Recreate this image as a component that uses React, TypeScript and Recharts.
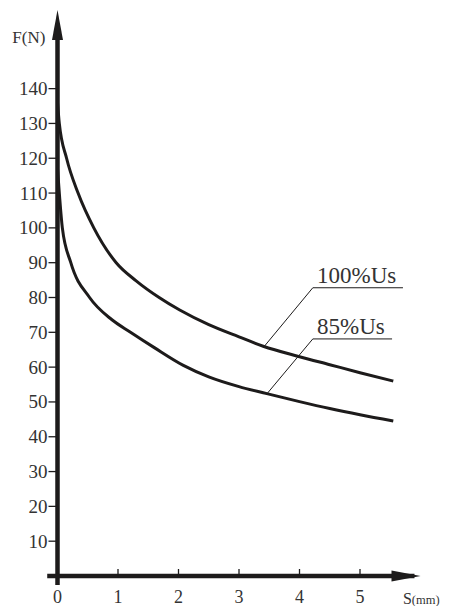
import { LineChart, Line, XAxis, YAxis, ReferenceLine, ReferenceDot } from "recharts";

// force-travel curves of the magnet
const sTicks = [0, 1, 2, 3, 4, 5];
const fTicks = [10, 20, 30, 40, 50, 60, 70, 80, 90, 100, 110, 120, 130, 140];

const fullS = [0, 0.03, 0.15, 0.34, 0.6, 0.97, 1.3, 1.68, 2.02, 2.5, 3, 3.4, 4, 4.5, 5, 5.55];
const fullF = [136, 130, 120, 110, 100, 90, 84.8, 80, 76.4, 72.2, 68.7, 66, 63, 60.7, 58.4, 56];

const lowS = [0, 0.03, 0.08, 0.22, 0.53, 0.9, 1.2, 1.6, 2.08, 2.5, 3, 3.46, 4, 4.5, 5, 5.55];
const lowF = [117, 110, 100, 90, 80, 73.6, 70.1, 65.6, 60.5, 57.2, 54.4, 52.4, 50.1, 48.1, 46.3, 44.5];

const full = fullS.map((s, i) => ({ s, f: fullF[i] }));
const low = lowS.map((s, i) => ({ s, f: lowF[i] }));

// callouts: leader from curve up to a knee, then an underline under the text
const callouts = [
  { text: "100%Us", from: { x: 3.41, y: 65.8 }, knee: { x: 4.22, y: 82.8 }, end: 5.71, textAt: { x: 4.29, y: 84.2 } },
  { text: "85%Us", from: { x: 3.46, y: 52.3 }, knee: { x: 4.22, y: 68.1 }, end: 5.53, textAt: { x: 4.29, y: 69.5 } },
];

const INK = "#1d1b1b";
const FONT = "'Liberation Serif', 'DejaVu Serif', serif";

function FTick({ x, y, payload }: any) {
  return (
    <g>
      <line x1={x - 9} x2={x} y1={y} y2={y} stroke={INK} strokeWidth={1.3} />
      <text x={x - 10} y={y} dy={6.5} textAnchor="end" fontFamily={FONT} fontSize={19} fill="#333">
        {payload.value}
      </text>
    </g>
  );
}

function STick({ x, y, payload }: any) {
  return (
    <g>
      {payload.value !== 0 && <line x1={x} x2={x} y1={y - 7} y2={y} stroke={INK} strokeWidth={1.3} />}
      <text x={x} y={y + 27} textAnchor="middle" fontFamily={FONT} fontSize={18} fill="#333">
        {payload.value}
      </text>
    </g>
  );
}

export default function App() {
  return (
    <div style={{ position: "absolute", left: 0, top: 0, background: "#fff" }}>
      <LineChart width={455} height={606} margin={{ top: 19, right: 34.5, bottom: 0, left: 7.5 }}>
        <XAxis
          type="number"
          dataKey="s"
          domain={[0, 6]}
          ticks={sTicks}
          axisLine={false}
          tickLine={false}
          tickSize={0}
          tickMargin={0}
          height={30}
          tick={<STick />}
          interval={0}
        />
        <YAxis
          type="number"
          dataKey="f"
          domain={[0, 160]}
          ticks={fTicks}
          axisLine={false}
          tickLine={false}
          tickSize={0}
          tickMargin={0}
          width={50}
          tick={<FTick />}
          interval={0}
        />
        <Line data={full} dataKey="f" type="monotone" stroke={INK} strokeWidth={3} dot={false} isAnimationActive={false} />
        <Line data={low} dataKey="f" type="monotone" stroke={INK} strokeWidth={3} dot={false} isAnimationActive={false} />

        {/* axes with arrows */}
        <ReferenceLine segment={[{ x: 0, y: -2.6 }, { x: 0, y: 158 }]} stroke={INK} strokeWidth={4.5} ifOverflow="visible" />
        <ReferenceLine segment={[{ x: -0.17, y: 0 }, { x: 5.9, y: 0 }]} stroke={INK} strokeWidth={4.5} ifOverflow="visible" />
        <ReferenceDot
          x={0}
          y={162.6}
          r={6}
          ifOverflow="visible"
          shape={({ cx, cy }: any) => (
            <polygon points={`${cx},${cy} ${cx + 5.5},${cy + 30} ${cx - 5.5},${cy + 30}`} fill={INK} />
          )}
        />
        <ReferenceDot
          x={6}
          y={0}
          r={6}
          ifOverflow="visible"
          shape={({ cx, cy }: any) => (
            <polygon points={`${cx},${cy} ${cx - 29},${cy - 5.5} ${cx - 29},${cy + 5.5}`} fill={INK} />
          )}
        />
        <ReferenceDot
          x={-0.2}
          y={153}
          ifOverflow="visible"
          shape={({ cx, cy }: any) => (
            <text x={cx} y={cy} textAnchor="end" fontFamily={FONT} fontSize={17} fill="#333">
              F(N)
            </text>
          )}
        />
        <ReferenceDot
          x={5.71}
          y={-8}
          ifOverflow="visible"
          shape={({ cx, cy }: any) => (
            <text x={cx} y={cy} fontFamily={FONT} fontSize={16} fill="#333">
              S<tspan fontSize={12.5}>(mm)</tspan>
            </text>
          )}
        />

        {callouts.map((c) => (
          <ReferenceLine key={c.text + "-lead"} segment={[c.from, c.knee]} stroke={INK} strokeWidth={1} ifOverflow="visible" />
        ))}
        {callouts.map((c) => (
          <ReferenceLine
            key={c.text + "-under"}
            segment={[c.knee, { x: c.end, y: c.knee.y }]}
            stroke={INK}
            strokeWidth={1}
            ifOverflow="visible"
          />
        ))}
        {callouts.map((c) => (
          <ReferenceDot
            key={c.text + "-text"}
            x={c.textAt.x}
            y={c.textAt.y}
            ifOverflow="visible"
            shape={({ cx, cy }: any) => (
              <text x={cx} y={cy} fontFamily={FONT} fontSize={23} fill="#333">
                {c.text}
              </text>
            )}
          />
        ))}
      </LineChart>
    </div>
  );
}
